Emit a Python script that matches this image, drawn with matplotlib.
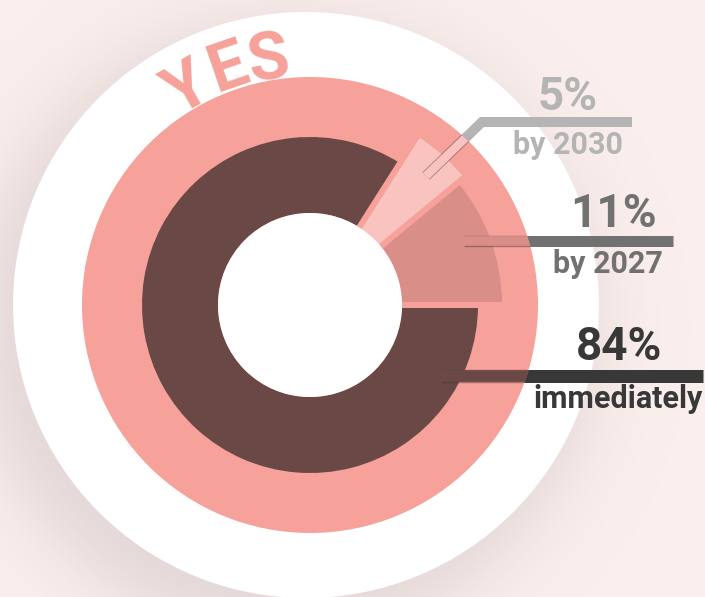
import numpy as np
import matplotlib.pyplot as plt
from matplotlib.patches import Circle, Wedge
import matplotlib.patheffects as pe

# data
shares = [84, 11, 5]
pct_labels = ['84%', '11%', '5%']
when_labels = ['immediately', 'by 2027', 'by 2030']
title_word = 'YES'

# styling
BG = '#fbefed'
SALMON = '#f6a19a'
SEG_COLORS = ['#6a4845', '#d98e88', '#f9c4c0']
SEG_OUTER = [168, 192, 200]
TEXT_COLORS = ['#383838', '#717171', '#b4b4b4']
INNER_R = 92
RING_R = 228
WHITE_R = 293

W, H = 705, 597
CX, CY = 310, H - 305  # donut centre, y up
WX, WY = 306, H - 305  # white disc centre

# leader lines (pixel layout, y down) and label anchors
LEADERS = [
    [(441, 376), (703, 376)],
    [(464, 241), (673, 241)],
    [(426, 176), (482, 122), (632, 122)],
]
LEADER_W = [13, 11, 10]
PCT_POS = [(662, 360), (657, 227), (598, 110)]
WHEN_POS = [(703, 408), (663, 273), (623, 154)]

plt.rcParams['font.family'] = ['Roboto', 'DejaVu Sans']

fig = plt.figure(figsize=(W / 100, H / 100), dpi=100)
fig.patch.set_facecolor(BG)
ax = fig.add_axes([0, 0, 1, 1])


def px(lw):
    return lw * 72 / 100


# soft shadow behind the white disc (offset down-left)
gx, gy = np.meshgrid(np.arange(W) + 0.5, np.arange(H) + 0.5)
d = np.hypot(gx - (WX - 20), gy - (WY - 24))
shade = 0.32 / (1 + np.exp((d - WHITE_R - 15) / 22))
img = np.zeros((H, W, 4))
img[..., 0] = 0xb0 / 255
img[..., 1] = 0xa2 / 255
img[..., 2] = 0xa6 / 255
img[..., 3] = shade
ax.imshow(img, extent=(0, W, 0, H), origin='lower', zorder=0,
          interpolation='bilinear')
ax.set_xlim(0, W)
ax.set_ylim(0, H)
ax.set_aspect('equal')
ax.axis('off')
ax.add_patch(Circle((WX, WY), WHITE_R, color='white', lw=0, zorder=1))

# leader lines, gray part (ring hides the inner part)
for i, pts in enumerate(LEADERS):
    xs = [p[0] for p in pts]
    ys = [H - p[1] for p in pts]
    ax.plot(xs, ys, color=TEXT_COLORS[i], lw=px(LEADER_W[i]),
            solid_capstyle='butt', solid_joinstyle='miter', zorder=2)

ring = Circle((CX, CY), RING_R, color=SALMON, lw=0, zorder=3)
ax.add_patch(ring)

# segments: counter-clockwise from 3 o'clock -> 11%, 5%, 84%
order = [1, 2, 0]
start = 0.0
bounds = []
for i in order:
    span = shares[i] / sum(shares) * 360
    ax.add_patch(Wedge((CX, CY), SEG_OUTER[i], start, start + span,
                       width=SEG_OUTER[i] - INNER_R, color=SEG_COLORS[i],
                       lw=0, zorder=4))
    bounds.append(start)
    start += span

# gaps between segments
for a in bounds:
    t = np.radians(a)
    ax.plot([CX + INNER_R * np.cos(t), CX + 205 * np.cos(t)],
            [CY + INNER_R * np.sin(t), CY + 205 * np.sin(t)],
            color=SALMON, lw=px(6), solid_capstyle='butt', zorder=5)

ax.add_patch(Circle((CX, CY), INNER_R, color='white', lw=0, zorder=6))

# leader lines, inner part drawn in segment colour
clip = Circle((CX, CY), RING_R, transform=ax.transData)
for i, pts in enumerate(LEADERS):
    xs = [p[0] for p in pts]
    ys = [H - p[1] for p in pts]
    ln, = ax.plot(xs, ys, color=SEG_COLORS[i], lw=px(LEADER_W[i]) - 1,
                  solid_capstyle='butt', solid_joinstyle='miter', zorder=7,
                  path_effects=[pe.Stroke(linewidth=px(LEADER_W[i]) + 0.3,
                                          foreground='#4a3432', alpha=0.45),
                                pe.Normal()])
    ln.set_clip_path(clip)

# labels
for i in range(len(shares)):
    x, y = PCT_POS[i]
    ax.text(x, H - y, pct_labels[i], ha='right', va='baseline',
            fontsize=33, fontweight='bold', color=TEXT_COLORS[i], zorder=8)
    x, y = WHEN_POS[i]
    ax.text(x, H - y, when_labels[i], ha='right', va='baseline',
            fontsize=22, fontweight='bold', color=TEXT_COLORS[i], zorder=8)

# curved title
letter_angles = [29.5, 19, 9.5]
letter_r = [229, 232, 229]
for ch, a, r in zip(title_word, letter_angles, letter_r):
    t = np.radians(a)
    ax.text(CX - r * np.sin(t), CY + r * np.cos(t), ch, rotation=a,
            rotation_mode='anchor', ha='center', va='baseline',
            fontsize=48, fontweight='bold', color=SALMON, zorder=3.5)

fig.savefig('out.png', dpi=100, facecolor=BG)
